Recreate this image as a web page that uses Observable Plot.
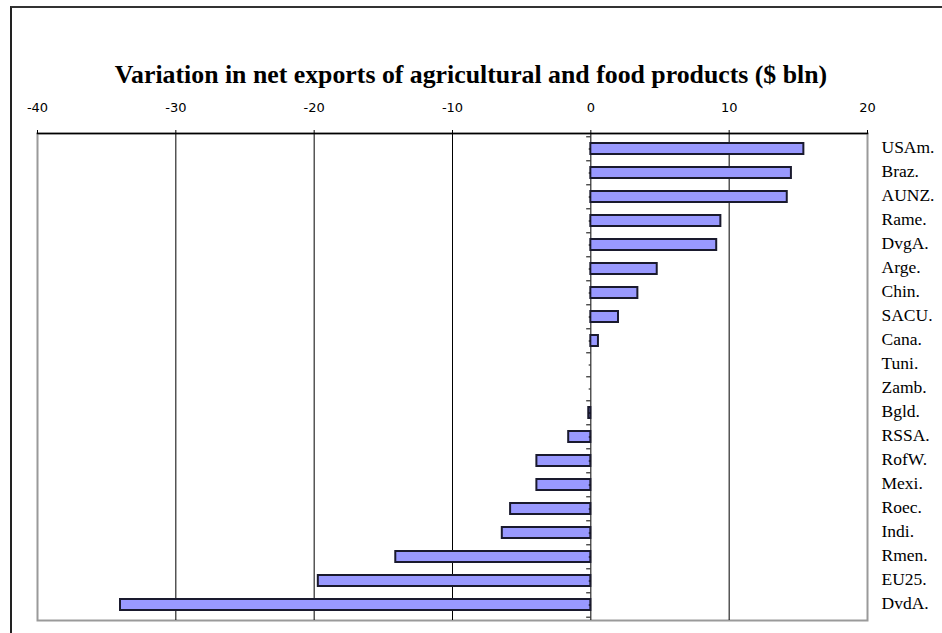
<!DOCTYPE html>
<html>
<head>
<meta charset="utf-8">
<script src="https://cdn.jsdelivr.net/npm/d3@7"></script>
<script src="https://cdn.jsdelivr.net/npm/@observablehq/plot@0.6"></script>
<style>
  html, body { margin: 0; padding: 0; background: #fff; }
  #wrap { position: relative; width: 942px; height: 633px; overflow: hidden; }
  #border { position: absolute; left: 10px; top: 6px; right: -5px; bottom: -5px;
            border-left: 2px solid #222; border-top: 2px solid #333; }
  #title { position: absolute; left: 0; width: 942px; top: 59px; text-align: center;
           font-family: "Liberation Serif", "DejaVu Serif", serif; font-weight: bold;
           font-size: 25.8px; line-height: 32px; color: #000; }
  #chart { position: absolute; left: 0; top: 0; }
</style>
</head>
<body>
<div id="wrap">
  <div id="border"></div>
  <div id="chart"></div>
  <div id="title">Variation in net exports of agricultural and food products ($ bln)</div>
</div>
<script>
const categories = ["USAm.", "Braz.", "AUNZ.", "Rame.", "DvgA.", "Arge.", "Chin.", "SACU.", "Cana.", "Tuni.",
                    "Zamb.", "Bgld.", "RSSA.", "RofW.", "Mexi.", "Roec.", "Indi.", "Rmen.", "EU25.", "DvdA."];
const values = [15.4, 14.5, 14.2, 9.4, 9.1, 4.8, 3.4, 2.0, 0.55, 0, 0, -0.15, -1.6, -3.9, -3.9, -5.8, -6.4, -14.1, -19.7, -34.0];
const xTicks = [-40, -30, -20, -10, 0, 10, 20];
const gridValues = [-30, -20, -10, 0, 10];

const data = categories.map((c, i) => ({category: c, value: values[i]}));

const W = 942, H = 633;
const mTop = 133, mBottom = 13, mLeft = 37, mRight = 75;
const step = (H - mTop - mBottom) / categories.length;

const chart = Plot.plot({
  width: W,
  height: H,
  marginTop: mTop,
  marginBottom: mBottom,
  marginLeft: mLeft,
  marginRight: mRight,
  style: {background: "transparent", overflow: "visible"},
  x: {domain: [-40, 20]},
  y: {domain: categories, paddingInner: 0.53, paddingOuter: 0.265},
  marks: [
    Plot.frame({stroke: "#9a9a9a", strokeWidth: 2}),
    Plot.ruleX(gridValues, {stroke: "#000", strokeWidth: 1}),
    Plot.barX(data, {x: "value", y: "category", fill: "#9999FF", stroke: "#1a1a2e", strokeWidth: 2}),
    Plot.ruleY(categories, {y: d => d, x1: -0.3, x2: 0, dy: -step / 2, stroke: "#000"}),
    Plot.ruleY([categories[categories.length - 1]], {y: d => d, x1: -0.3, x2: 0, dy: step / 2, stroke: "#000"}),
    Plot.ruleY(categories, {y: d => d, x1: -0.12, x2: 0, stroke: "#000"}),
    Plot.frame({anchor: "top", stroke: "#000", strokeWidth: 1.5}),
    Plot.axisX(xTicks, {anchor: "top", tickSize: 4, tickPadding: 18, label: null, tickFormat: d => String(d),
      fontFamily: "'DejaVu Sans', sans-serif", fontSize: 13, fill: "#000"}),
    Plot.axisY({anchor: "right", tickSize: 0, tickPadding: 14, label: null, dy: -2,
      fontFamily: "'Liberation Serif', serif", fontSize: 17.5, fill: "#000"})
  ]
});
document.getElementById("chart").appendChild(chart);
</script>
</body>
</html>
